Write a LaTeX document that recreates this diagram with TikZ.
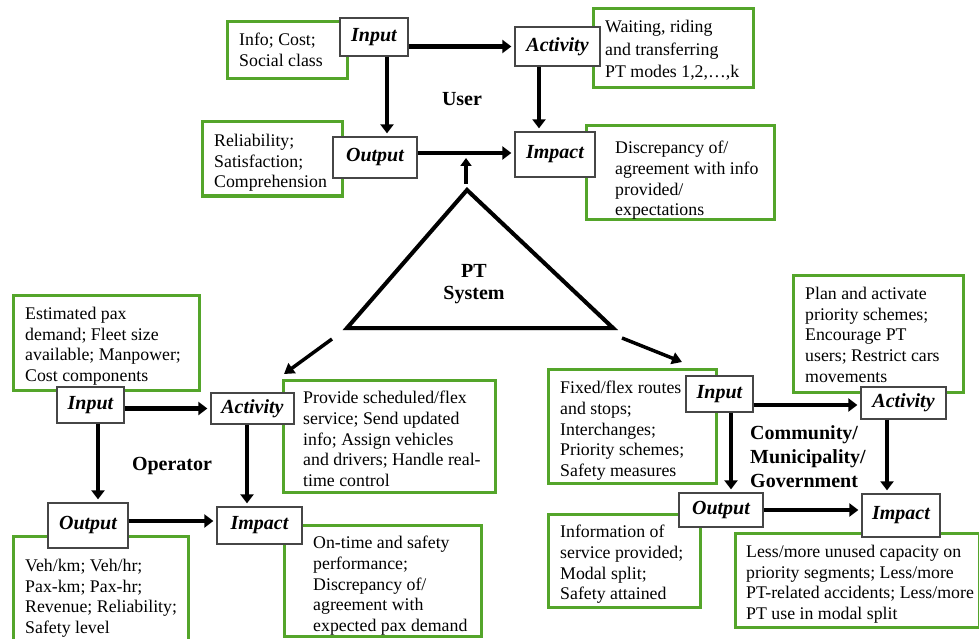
\documentclass[tikz,border=0pt]{standalone}
\usepackage{fontspec}
\setmainfont{Liberation Serif}
\usetikzlibrary{arrows.meta}
\definecolor{boxgreen}{RGB}{84,165,42}
\definecolor{labelgray}{RGB}{70,70,70}
\begin{document}
\begin{tikzpicture}[x=1pt,y=-1pt,
  gbox/.style={draw=boxgreen, line width=3pt, inner sep=0pt},
  txt/.style={anchor=north west, inner sep=0pt, align=left, font=\fontsize{17.8}{20.7}\selectfont},
  lbl/.style={draw=labelgray, line width=1.3pt, fill=white, inner sep=0pt,
              font=\fontsize{20}{24}\selectfont\bfseries\itshape},
  head/.style={inner sep=0pt, font=\fontsize{20}{23.5}\selectfont\bfseries},
  arr/.style={line width=4.5pt, -{Triangle[length=9pt,width=13pt]}, shorten >=3pt},
  sysarr/.style={line width=3.5pt, -{Triangle[length=10pt,width=12pt]}},
]
\fill[white] (0,0) rectangle (979,639);
\clip (0,0) rectangle (979,639);

% ---------- User ----------
\node[gbox, minimum width=120pt, minimum height=57pt] (uInBox)  at (287,50.5) {};
\node[gbox, minimum width=160pt, minimum height=79pt] (uActBox) at (673,48.5) {};
\node[gbox, minimum width=140pt, minimum height=74pt] (uOutBox) at (272,159) {};
\node[gbox, minimum width=188pt, minimum height=93pt] (uImpBox) at (680,172.5) {};

\node[txt] (uInTxt)  at (239,33) {Info; Cost;\\Social class};
\node[txt, font=\fontsize{17.8}{22.5}\selectfont] (uActTxt) at (605,20)
  {Waiting, riding\\and transferring\\PT modes 1,2,\ldots,k};
\node[txt] (uOutTxt) at (214,134) {Reliability;\\Satisfaction;\\Comprehension};
\node[txt] (uImpTxt) at (615,141) {Discrepancy of/\\agreement with info\\provided/\\expectations};

\node[lbl, minimum width=68pt, minimum height=38pt] (uIn)  at (374,37)    {Input};
\node[lbl, minimum width=85pt, minimum height=39pt] (uAct) at (557.5,46.5) {Activity};
\node[lbl, minimum width=84pt, minimum height=41pt] (uOut) at (375,157.5) {Output};
\node[lbl, minimum width=80pt, minimum height=45pt] (uImp) at (555,154.5) {Impact};

\node[head] (user) at (462,99) {User};

\coordinate (a1) at ([xshift=13pt]uIn.south);
\coordinate (a2) at ([xshift=-18.5pt]uAct.south);
\coordinate (a3) at ([yshift=4.5pt]uOut.east);
\draw[arr] (uIn.east |- uAct.west) -- (uAct.west);
\draw[arr] (a1) -- (a1 |- uOut.north);
\draw[arr] (a2) -- (a2 |- uImp.north);
\draw[arr] (a3) -- (a3 -| uImp.west);

% ---------- PT system ----------
\coordinate (apex) at (467,190);
\coordinate (baseL) at (347,328);
\coordinate (baseR) at (613,328);
\draw[gray!45, line width=4pt, line join=miter, xshift=1.5pt, yshift=-1.5pt]
  (apex) -- (baseR) -- (baseL) -- cycle;
\draw[line width=4pt, line join=miter] (apex) -- (baseR) -- (baseL) -- cycle;
\node[head, align=center, font=\fontsize{20}{22}\selectfont\bfseries] (pts) at (474,284) {PT\\System};

\coordinate (upBase) at (466,184);
\coordinate (upTip)  at (466,158);
\draw[line width=4.5pt, -{Triangle[length=8pt,width=11pt]}] (upBase) -- (upTip);

\coordinate (opFrom) at (332,339);
\coordinate (opTip)  at (284,374);
\coordinate (gvFrom) at (622,338);
\coordinate (gvTip)  at (682,362);
\draw[sysarr] (opFrom) -- (opTip);
\draw[sysarr] (gvFrom) -- (gvTip);

% ---------- Operator ----------
\node[gbox, minimum width=186pt, minimum height=95pt]  (oInBox)  at (106,342.5) {};
\node[gbox, minimum width=212pt, minimum height=112pt] (oActBox) at (389,436) {};
\node[gbox, minimum width=175pt, minimum height=112pt] (oOutBox) at (100.5,592) {};
\node[gbox, minimum width=197pt, minimum height=111pt] (oImpBox) at (382.5,580.5) {};

\node[txt] (oInTxt)  at (25,307) {Estimated pax\\demand; Fleet size\\available; Manpower;\\Cost components};
\node[txt] (oActTxt) at (303,391) {Provide scheduled/flex\\service; Send updated\\info; Assign vehicles\\and drivers; Handle real-\\time control};
\node[txt] (oOutTxt) at (25,559) {Veh/km; Veh/hr;\\Pax-km; Pax-hr;\\Revenue; Reliability;\\Safety level};
\node[txt] (oImpTxt) at (313,536) {On-time and safety\\performance;\\Discrepancy of/\\agreement with\\expected pax demand};

\node[lbl, minimum width=67pt, minimum height=36pt] (oIn)  at (90.5,405)   {Input};
\node[lbl, minimum width=83pt, minimum height=31pt] (oAct) at (252.5,408.5) {Activity};
\node[lbl, minimum width=80pt, minimum height=45pt] (oOut) at (88,525.5)   {Output};
\node[lbl, minimum width=85pt, minimum height=37pt] (oImp) at (259.5,525.5) {Impact};

\node[head] (operator) at (172,466) {Operator};

\coordinate (b1) at ([xshift=7.5pt]oIn.south);
\coordinate (b2) at ([xshift=-5.5pt]oAct.south);
\coordinate (b3) at ([yshift=4.5pt]oOut.east);
\draw[arr] (oIn.east |- oAct.west) -- (oAct.west);
\draw[arr] (b1) -- (b1 |- oOut.north);
\draw[arr] (b2) -- (b2 |- oImp.north);
\draw[arr] (b3) -- (b3 -| oImp.west);

% ---------- Community / Municipality / Government ----------
\node[gbox, minimum width=170pt, minimum height=117pt] (gActBox) at (878,333.5) {};
\node[gbox, minimum width=168pt, minimum height=114pt] (gInBox)  at (632,426) {};
\node[gbox, minimum width=152pt, minimum height=93pt]  (gOutBox) at (624,560.5) {};
\node[gbox, minimum width=244pt, minimum height=94pt]  (gImpBox) at (857,580) {};

\node[txt] (gActTxt) at (805,287) {Plan and activate\\priority schemes;\\Encourage PT\\users; Restrict cars\\movements};
\node[txt] (gInTxt)  at (560,381) {Fixed/flex routes\\and stops;\\Interchanges;\\Priority schemes;\\Safety measures};
\node[txt] (gOutTxt) at (560,525) {Information of\\service provided;\\Modal split;\\Safety attained};
\node[txt] (gImpTxt) at (746,545) {Less/more unused capacity on\\priority segments; Less/more\\PT-related accidents; Less/more\\PT use in modal split};

\node[lbl, minimum width=67pt, minimum height=36pt] (gIn)  at (719.5,394) {Input};
\node[lbl, minimum width=85pt, minimum height=32pt] (gAct) at (903.5,403) {Activity};
\node[lbl, minimum width=84pt, minimum height=34pt] (gOut) at (721,510)   {Output};
\node[lbl, minimum width=78pt, minimum height=43pt] (gImp) at (901,515.5) {Impact};

\node[head, anchor=north west, align=left, font=\fontsize{20}{24}\selectfont\bfseries]
  (gov) at (750,425) {Community/\\Municipality/\\Government};

\coordinate (c0) at ([yshift=-2pt]gAct.west);
\coordinate (c1) at ([xshift=11.5pt]gIn.south);
\coordinate (c2) at ([xshift=-16.5pt]gAct.south);
\draw[arr] (gIn.east |- c0) -- (c0);
\draw[arr] (c1) -- (c1 |- gOut.north);
\draw[arr] (c2) -- (c2 |- gImp.north);
\draw[arr] (gOut.east) -- (gOut.east -| gImp.west);
\end{tikzpicture}
\end{document}
